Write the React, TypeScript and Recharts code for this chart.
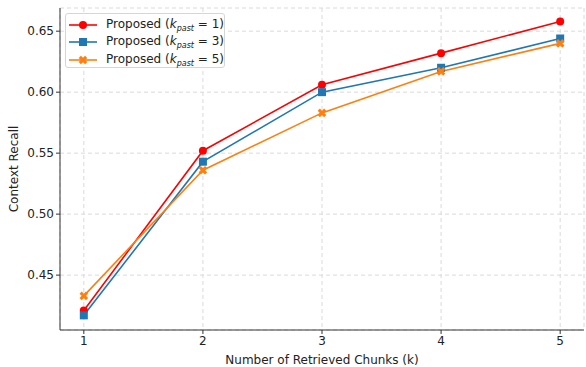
import React from 'react';
import {
  LineChart,
  Line,
  XAxis,
  YAxis,
  CartesianGrid,
} from 'recharts';

const chunks = [1, 2, 3, 4, 5];
const recallK1 = [0.421, 0.552, 0.606, 0.632, 0.658];
const recallK3 = [0.417, 0.543, 0.6, 0.62, 0.644];
const recallK5 = [0.433, 0.536, 0.583, 0.617, 0.64];
const yTicks = [0.45, 0.5, 0.55, 0.6, 0.65];

const RED = '#ff0000';
const BLUE = '#1f77b4';
const ORANGE = '#ff7f0e';
const FONT = '"DejaVu Sans", sans-serif';

const data = chunks.map((k, i) => ({
  k,
  k1: recallK1[i],
  k3: recallK3[i],
  k5: recallK5[i],
}));

const series = [
  { key: 'k1', color: RED, shape: 'circle', past: '1' },
  { key: 'k3', color: BLUE, shape: 'square', past: '3' },
  { key: 'k5', color: ORANGE, shape: 'x', past: '5' },
];

// marker shapes, shared by the lines and the legend
const Marker = ({ cx, cy, shape, color }: { cx: number; cy: number; shape: string; color: string }) => {
  if (shape === 'square') {
    return <rect x={cx - 4} y={cy - 4} width={8} height={8} fill={color} />;
  }
  if (shape === 'x') {
    const a = 4.3;
    const w = 2.2;
    const d = `M${cx - a},${cy - a + w} L${cx - a + w},${cy - a} L${cx},${cy - w} L${cx + a - w},${cy - a} L${cx + a},${cy - a + w} L${cx + w},${cy} L${cx + a},${cy + a - w} L${cx + a - w},${cy + a} L${cx},${cy + w} L${cx - a + w},${cy + a} L${cx - a},${cy + a - w} L${cx - w},${cy} Z`;
    return <path d={d} fill={color} />;
  }
  return <circle cx={cx} cy={cy} r={4} fill={color} />;
};

const makeDot = (shape: string, color: string) => (props: any) => {
  const { cx, cy, index } = props;
  if (cx == null || cy == null) return <g key={`d-${index}`} />;
  return (
    <g key={`d-${shape}-${index}`}>
      <Marker cx={cx} cy={cy} shape={shape} color={color} />
    </g>
  );
};

const YLabel = (props: any) => {
  const vb = props.viewBox || { x: 0, y: 0, width: 0, height: 0 };
  const x = 14;
  const y = vb.y + vb.height / 2;
  return (
    <text
      x={x}
      y={y}
      transform={`rotate(-90, ${x}, ${y})`}
      textAnchor="middle"
      dominantBaseline="central"
      fontSize={12}
      fontFamily={FONT}
      fill="#222"
    >
      Context Recall
    </text>
  );
};

const App: React.FC = () => {
  return (
    <div style={{ position: 'absolute', left: 0, top: 0, width: 586, height: 367, background: '#fff' }}>
      <LineChart
        width={586}
        height={367}
        data={data}
        margin={{ top: 8, right: 2, left: 0, bottom: 0 }}
        style={{ fontFamily: FONT }}
      >
        <CartesianGrid stroke="#dadada" strokeDasharray="4 3" />
        <XAxis
          dataKey="k"
          type="number"
          domain={[0.8, 5.2]}
          ticks={chunks}
          allowDataOverflow
          height={37}
          stroke="#333"
          tickSize={4}
          tick={{ fontSize: 12, fill: '#222' }}
          label={{
            value: 'Number of Retrieved Chunks (k)',
            position: 'insideBottom',
            offset: 3,
            fontSize: 12,
            fill: '#222',
          }}
        />
        <XAxis xAxisId="top" orientation="top" dataKey="k" type="number" domain={[0.8, 5.2]} height={0} tick={false} tickLine={false} stroke="#333" />
        <YAxis
          type="number"
          domain={[0.405, 0.669]}
          ticks={yTicks}
          allowDataOverflow
          width={60}
          stroke="#333"
          tickSize={4}
          tickFormatter={(v: number) => v.toFixed(2)}
          tick={{ fontSize: 12, fill: '#222' }}
          label={<YLabel />}
        />
        <YAxis yAxisId="right" orientation="right" width={0} tick={false} tickLine={false} stroke="#333" />
        {series.map((s) => (
          <Line
            key={s.key}
            dataKey={s.key}
            stroke={s.color}
            strokeWidth={1.6}
            dot={makeDot(s.shape, s.color)}
            activeDot={false}
            isAnimationActive={false}
          />
        ))}
      </LineChart>

      {/* legend box, upper left */}
      <div
        style={{
          position: 'absolute',
          left: 65,
          top: 13,
          width: 160,
          height: 55,
          border: '1px solid #d6d6d6',
          borderRadius: 3,
          background: 'rgba(255,255,255,0.85)',
          fontFamily: FONT,
          fontSize: 12,
          color: '#222',
          boxSizing: 'border-box',
          padding: '2px 0 0 2px',
        }}
      >
        {series.map((s) => (
          <div key={s.key} style={{ display: 'flex', alignItems: 'center', height: 17.5 }}>
            <svg width={30} height={12} style={{ marginRight: 8 }}>
              <line x1={1} y1={6} x2={29} y2={6} stroke={s.color} strokeWidth={1.6} />
              <Marker cx={15} cy={6} shape={s.shape} color={s.color} />
            </svg>
            <span style={{ whiteSpace: 'nowrap' }}>
              Proposed (<i>k</i>
              <sub style={{ fontSize: 8, fontStyle: 'italic' }}>past</sub> = {s.past})
            </span>
          </div>
        ))}
      </div>
    </div>
  );
};

export default App;
